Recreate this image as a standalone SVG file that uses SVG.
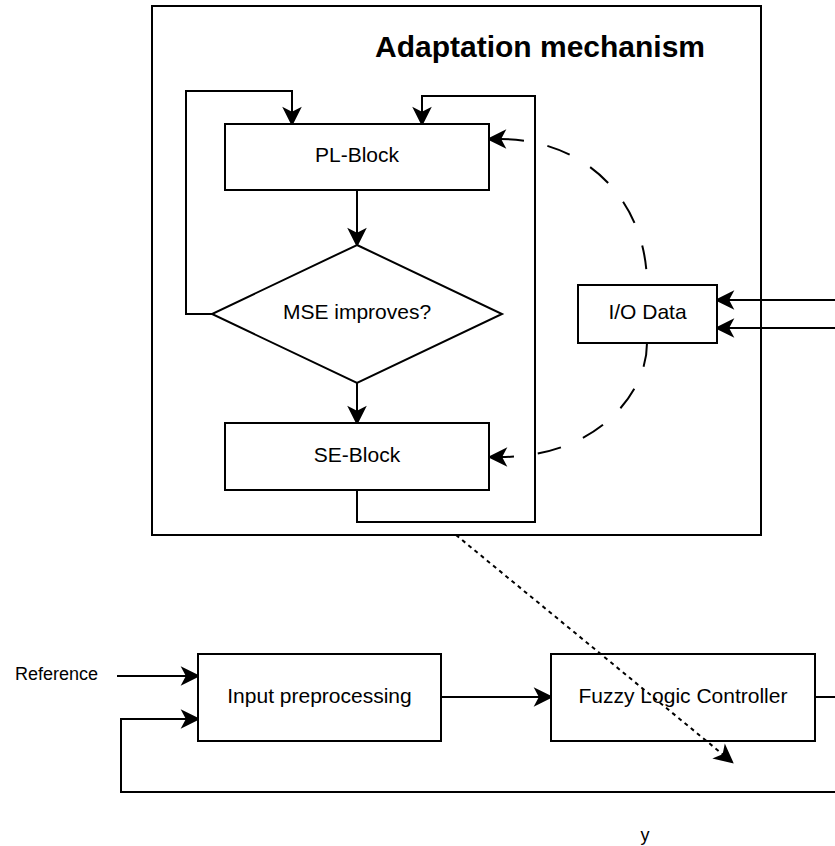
<svg xmlns="http://www.w3.org/2000/svg" width="835" height="846" viewBox="0 0 835 846">
<style>
.box{fill:#fff;stroke:#000;stroke-width:2}
.frame{fill:none;stroke:#000;stroke-width:2}
.ln{fill:none;stroke:#000;stroke-width:2}
.dash{fill:none;stroke:#000;stroke-width:2;stroke-dasharray:24 24}
.dot{fill:none;stroke:#000;stroke-width:2;stroke-dasharray:4 4}
.t{font-family:"Liberation Sans",Arial,Helvetica,sans-serif;font-size:21px;fill:#000;text-anchor:middle}
.title{font-family:"Liberation Sans",Arial,Helvetica,sans-serif;font-size:30px;font-weight:bold;fill:#000;text-anchor:middle}
.s{font-family:"Liberation Sans",Arial,Helvetica,sans-serif;font-size:18px;fill:#000;text-anchor:middle}
</style>
<defs>
<marker id="arr" viewBox="-7 -11 22 22" markerWidth="22" markerHeight="22" refX="0" refY="0" markerUnits="userSpaceOnUse" orient="auto" style="overflow:visible">
<path d="M11,0 L-4,-7.5 L0,0 L-4,7.5 Z" fill="#000" stroke="#000" stroke-width="2" stroke-dasharray="none"/>
</marker>
<marker id="arrs" viewBox="-7 -11 22 22" markerWidth="22" markerHeight="22" refX="0" refY="0" markerUnits="userSpaceOnUse" orient="auto-start-reverse" style="overflow:visible">
<path d="M11,0 L-4,-7.5 L0,0 L-4,7.5 Z" fill="#000" stroke="#000" stroke-width="2" stroke-dasharray="none"/>
</marker>
</defs>
<rect width="835" height="846" fill="#fff"/>
<g id="adaptation-mechanism">
<rect class="frame" x="152" y="6" width="609" height="529"/>
<text class="title" x="540" y="57">Adaptation mechanism</text>
</g>
<g id="connectors">
<path class="ln" d="M212,314 H186 V91 H292 V113" marker-end="url(#arr)"/>
<path class="ln" d="M357,490 V522 H535 V96 H422 V113" marker-end="url(#arr)"/>
<path class="ln" d="M357,190 V234" marker-end="url(#arr)"/>
<path class="ln" d="M357,383 V412" marker-end="url(#arr)"/>
<path class="ln" d="M840,300 H728" marker-end="url(#arr)"/>
<path class="ln" d="M840,328 H728" marker-end="url(#arr)"/>
<path class="dash" d="M500,139 C585,139 647,200 647,285" marker-start="url(#arrs)"/>
<path class="dash" d="M647,343 C647,395 595,457 501,457" marker-end="url(#arr)"/>
<path class="ln" d="M117,676 H187" marker-end="url(#arr)"/>
<path class="ln" d="M840,792 H121 V719 H187" marker-end="url(#arr)"/>
<path class="ln" d="M441,697 H540" marker-end="url(#arr)"/>
<path class="ln" d="M815,697 H840"/>
</g>
<g id="pl-block">
<rect class="box" x="225" y="124" width="264" height="66"/>
<text class="t" x="357" y="162">PL-Block</text>
</g>
<g id="mse-improves">
<path class="box" d="M357,245 L502,314 L357,383 L212,314 Z"/>
<text class="t" x="357" y="319">MSE improves?</text>
</g>
<g id="se-block">
<rect class="box" x="225" y="423" width="264" height="67"/>
<text class="t" x="357" y="462">SE-Block</text>
</g>
<g id="io-data">
<rect class="box" x="578" y="285" width="139" height="58"/>
<text class="t" x="647.5" y="319">I/O Data</text>
</g>
<g id="input-preprocessing">
<rect class="box" x="198" y="654" width="243" height="87"/>
<text class="t" x="319.5" y="703">Input preprocessing</text>
</g>
<g id="fuzzy-logic-controller">
<rect class="box" x="551" y="654" width="264" height="87"/>
<text class="t" x="683" y="703">Fuzzy Logic Controller</text>
</g>
<g id="labels">
<text class="s" x="56.5" y="680">Reference</text>
<text class="s" x="645" y="841">y</text>
</g>
<g id="dotted-connector">
<path class="dot" d="M456,535 L723.5,755" marker-end="url(#arr)"/>
</g>
</svg>
